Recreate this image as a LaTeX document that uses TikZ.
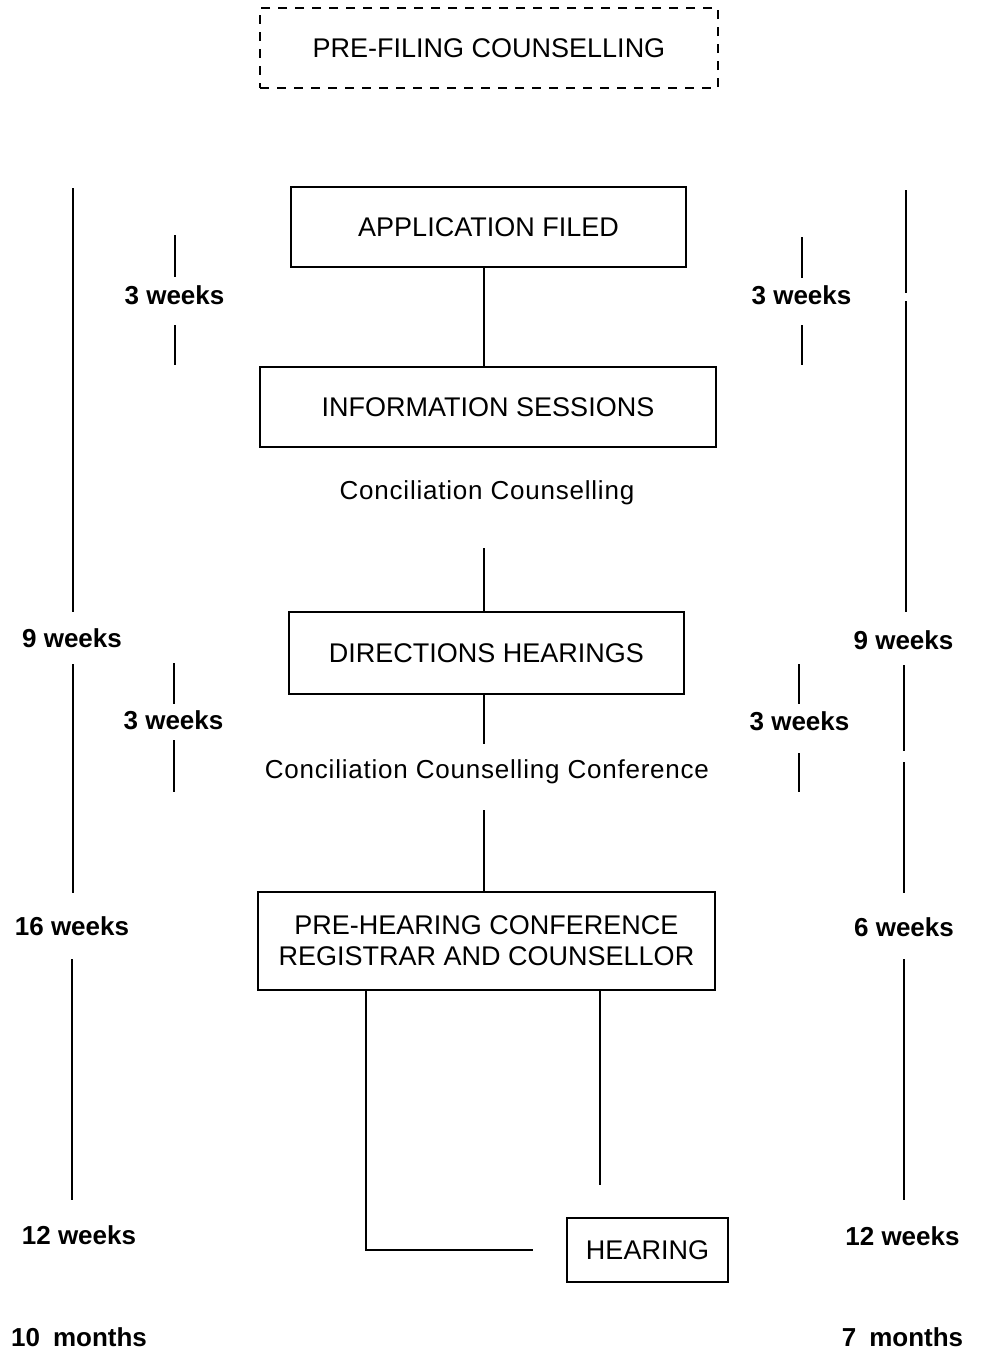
\documentclass[tikz,border=0pt]{standalone}
\usepackage{fontspec}
\setmainfont{Liberation Sans}
\newfontfamily\spacedfont[LetterSpace=3]{Liberation Sans}
\begin{document}
\begin{tikzpicture}[x=1pt,y=-1pt,
  box/.style={draw,line width=1.4pt,inner sep=0pt,align=center,font=\fontsize{27}{31}\selectfont},
  lbl/.style={inner sep=0pt,font=\spacedfont\fontsize{26}{31}\selectfont},
  wk/.style={inner sep=0pt,font=\fontsize{26}{31}\selectfont\bfseries},
  ln/.style={line width=1.4pt}]
\useasboundingbox (0,0) rectangle (981,1353);
% boxes
\node[box,dashed,dash pattern=on 9pt off 8pt,minimum width=458pt,minimum height=80pt] (pre0) at (489,48) {PRE-FILING COUNSELLING};
\node[box,minimum width=395pt,minimum height=80pt] (app) at (488.5,227) {APPLICATION FILED};
\node[box,minimum width=456pt,minimum height=80pt] (info) at (488,407) {INFORMATION SESSIONS};
\node[lbl] (cc) at (487,493) {Conciliation Counselling};
\node[box,minimum width=395pt,minimum height=82pt] (dir) at (486.5,653) {DIRECTIONS HEARINGS};
\node[lbl] (ccc) at (487,772) {Conciliation Counselling Conference};
\node[box,minimum width=457pt,minimum height=98pt,font=\fontsize{27}{31}\selectfont] (pre) at (486.5,941) {PRE-HEARING CONFERENCE\\REGISTRAR AND COUNSELLOR};
\node[box,minimum width=161pt,minimum height=64pt] (hear) at (647.5,1250) {HEARING};
% central connectors
\coordinate (a1) at (484,267);
\coordinate (a2) at (484,367);
\draw[ln] (a1) -- (a2);
\coordinate (b1) at (484,548);
\coordinate (b2) at (484,612);
\draw[ln] (b1) -- (b2);
\coordinate (c1) at (484,694);
\coordinate (c2) at (484,744);
\draw[ln] (c1) -- (c2);
\coordinate (d1) at (484,810);
\coordinate (d2) at (484,892);
\draw[ln] (d1) -- (d2);
\coordinate (e1) at (366,990);
\coordinate (e2) at (366,1250);
\coordinate (e3) at (533,1250);
\draw[ln] (e1) -- (e2) -- (e3);
\coordinate (f1) at (600,990);
\coordinate (f2) at (600,1185);
\draw[ln] (f1) -- (f2);
% left labels
\node[wk] (l3a) at (174.5,295) {3 weeks};
\node[wk] (l9) at (72,638) {9 weeks};
\node[wk] (l3b) at (173.5,720) {3 weeks};
\node[wk] (l16) at (72,926) {16 weeks};
\node[wk] (l12) at (79,1235) {12 weeks};
\node[wk] (l10) at (79,1337) {10\hspace{13pt}months};
% right labels
\node[wk] (r3a) at (801.5,295) {3 weeks};
\node[wk] (r9) at (903.5,640) {9 weeks};
\node[wk] (r3b) at (799.5,721) {3 weeks};
\node[wk] (r6) at (904,927) {6 weeks};
\node[wk] (r12) at (902.5,1236) {12 weeks};
\node[wk] (r7) at (902.5,1337) {7\hspace{13pt}months};
% left timeline
\coordinate (L1) at (73,188); \coordinate (L2) at (73,612);
\coordinate (L3) at (73,664); \coordinate (L4) at (73,893);
\coordinate (L5) at (72,959); \coordinate (L6) at (72,1200);
\draw[ln] (L1) -- (L2);
\draw[ln] (L3) -- (L4);
\draw[ln] (L5) -- (L6);
\coordinate (la1) at (175,235); \coordinate (la2) at (175,277);
\coordinate (la3) at (175,325); \coordinate (la4) at (175,365);
\draw[ln] (la1) -- (la2);
\draw[ln] (la3) -- (la4);
\coordinate (lb1) at (174,663); \coordinate (lb2) at (174,704);
\coordinate (lb3) at (174,740); \coordinate (lb4) at (174,792);
\draw[ln] (lb1) -- (lb2);
\draw[ln] (lb3) -- (lb4);
% right timeline
\coordinate (R1) at (906,190); \coordinate (R2) at (906,293);
\coordinate (R3) at (906,301); \coordinate (R4) at (906,612);
\coordinate (R5) at (904,665); \coordinate (R6) at (904,751);
\coordinate (R7) at (904,762); \coordinate (R8) at (904,893);
\coordinate (R9) at (904,959); \coordinate (R10) at (904,1200);
\draw[ln] (R1) -- (R2);
\draw[ln] (R3) -- (R4);
\draw[ln] (R5) -- (R6);
\draw[ln] (R7) -- (R8);
\draw[ln] (R9) -- (R10);
\coordinate (ra1) at (802,237); \coordinate (ra2) at (802,278);
\coordinate (ra3) at (802,325); \coordinate (ra4) at (802,365);
\draw[ln] (ra1) -- (ra2);
\draw[ln] (ra3) -- (ra4);
\coordinate (rb1) at (799,664); \coordinate (rb2) at (799,704);
\coordinate (rb3) at (799,753); \coordinate (rb4) at (799,792);
\draw[ln] (rb1) -- (rb2);
\draw[ln] (rb3) -- (rb4);
\end{tikzpicture}
\end{document}
